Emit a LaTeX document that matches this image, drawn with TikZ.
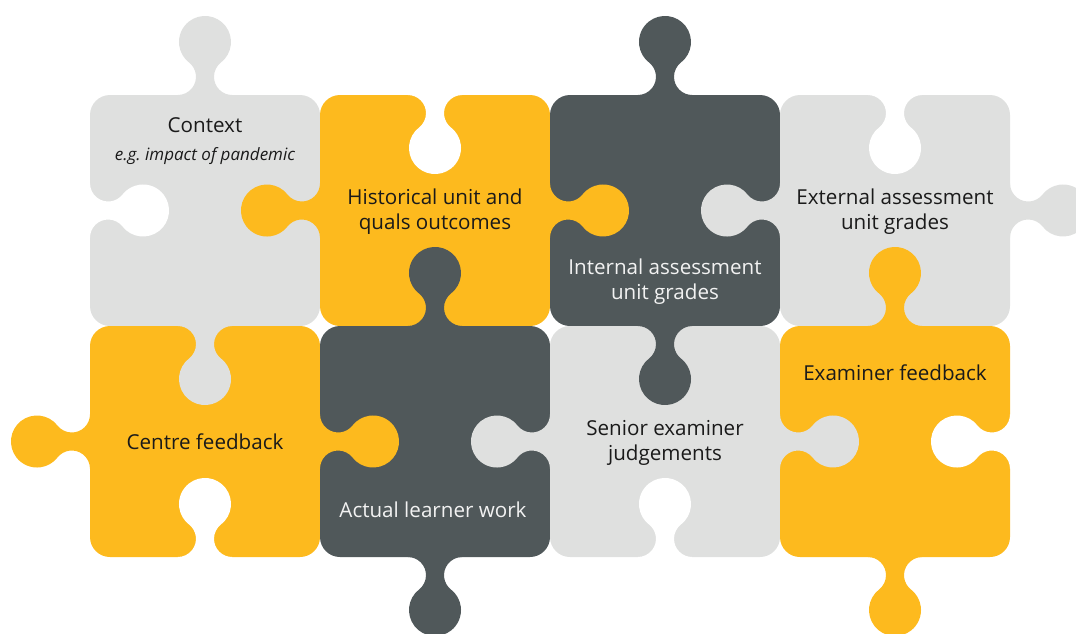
\documentclass[tikz,border=0pt]{standalone}
\usepackage{fontspec}
\setmainfont{Open Sans}
\definecolor{puzgrey}{HTML}{DFE0DF}
\definecolor{puzyellow}{HTML}{FDBA1E}
\definecolor{puzdark}{HTML}{50585A}
\definecolor{puzink}{HTML}{1A1A1A}
\tikzset{
  body/.style={rounded corners=10pt},
  lbl/.style={align=center,font=\fontsize{10.3}{12.8}\selectfont,text=puzink},
  lbldark/.style={lbl,text=white!95!black}
}
% one tab, edge on the x axis, tab towards +y
\newcommand{\puzshape}[1]{\fill[#1] (-27.2,-2) -- (-27.2,0) arc[start angle=-90,end angle=52,radius=18.2]
  arc[start angle=232,end angle=-52,radius=26] arc[start angle=128,end angle=270,radius=18.2] -- (27.2,-2) -- cycle;}
\newcommand{\puzknob}[3]{\begin{scope}[shift={(#1)},rotate=#2]\puzshape{#3}\end{scope}}
\newcommand{\puzhole}[2]{\begin{scope}[shift={(#1)},rotate=#2]\puzshape{white}\end{scope}}
\begin{document}
\begin{tikzpicture}[x=0.5pt,y=-0.5pt]
\useasboundingbox (0,0) rectangle (1076,633);
\clip (0,0) rectangle (1076,633);
% bodies
\fill[body,puzgrey] (90,95) rectangle (320,326);
\fill[body,puzyellow] (320,95) rectangle (550,326);
\fill[body,puzdark] (550,95) rectangle (780,326);
\fill[body,puzgrey] (780,95) rectangle (1010,326);
\fill[body,puzyellow] (90,326) rectangle (320,557);
\fill[body,puzdark] (320,326) rectangle (550,557);
\fill[body,puzgrey] (550,326) rectangle (780,557);
\fill[body,puzyellow] (780,326) rectangle (1010,557);
% holes on the outside
\puzhole{90,210.5}{90}
\puzhole{435,95}{0}
\puzhole{895,95}{0}
\puzhole{205,557}{180}
\puzhole{665,557}{180}
\puzhole{1010,441.5}{-90}
% knobs
\puzknob{205,95}{180}{puzgrey}
\puzknob{205,326}{0}{puzgrey}
\puzknob{320,210.5}{-90}{puzyellow}
\puzknob{550,210.5}{90}{puzyellow}
\puzknob{665,95}{180}{puzdark}
\puzknob{665,326}{0}{puzdark}
\puzknob{780,210.5}{-90}{puzgrey}
\puzknob{1010,210.5}{90}{puzgrey}
\puzknob{90,441.5}{-90}{puzyellow}
\puzknob{320,441.5}{90}{puzyellow}
\puzknob{435,326}{180}{puzdark}
\puzknob{435,557}{0}{puzdark}
\puzknob{550,441.5}{-90}{puzgrey}
\puzknob{780,441.5}{90}{puzgrey}
\puzknob{895,326}{180}{puzyellow}
\puzknob{895,557}{0}{puzyellow}
% labels
\node[lbl] (context) at (205,141) {Context\\[1pt]{\fontsize{8.5}{10}\selectfont\itshape e.g.\ impact of pandemic}};
\node[lbl] (historical) at (435,211.5) {Historical unit and\\quals outcomes};
\node[lbldark] (internal) at (665,281.5) {Internal assessment\\unit grades};
\node[lbl] (external) at (895,211.5) {External assessment\\unit grades};
\node[lbl] (centre) at (205,441.5) {Centre feedback};
\node[lbldark] (learner) at (433,510) {Actual learner work};
\node[lbl] (senior) at (665,443) {Senior examiner\\judgements};
\node[lbl] (examiner) at (895,373) {Examiner feedback};
\end{tikzpicture}
\end{document}
